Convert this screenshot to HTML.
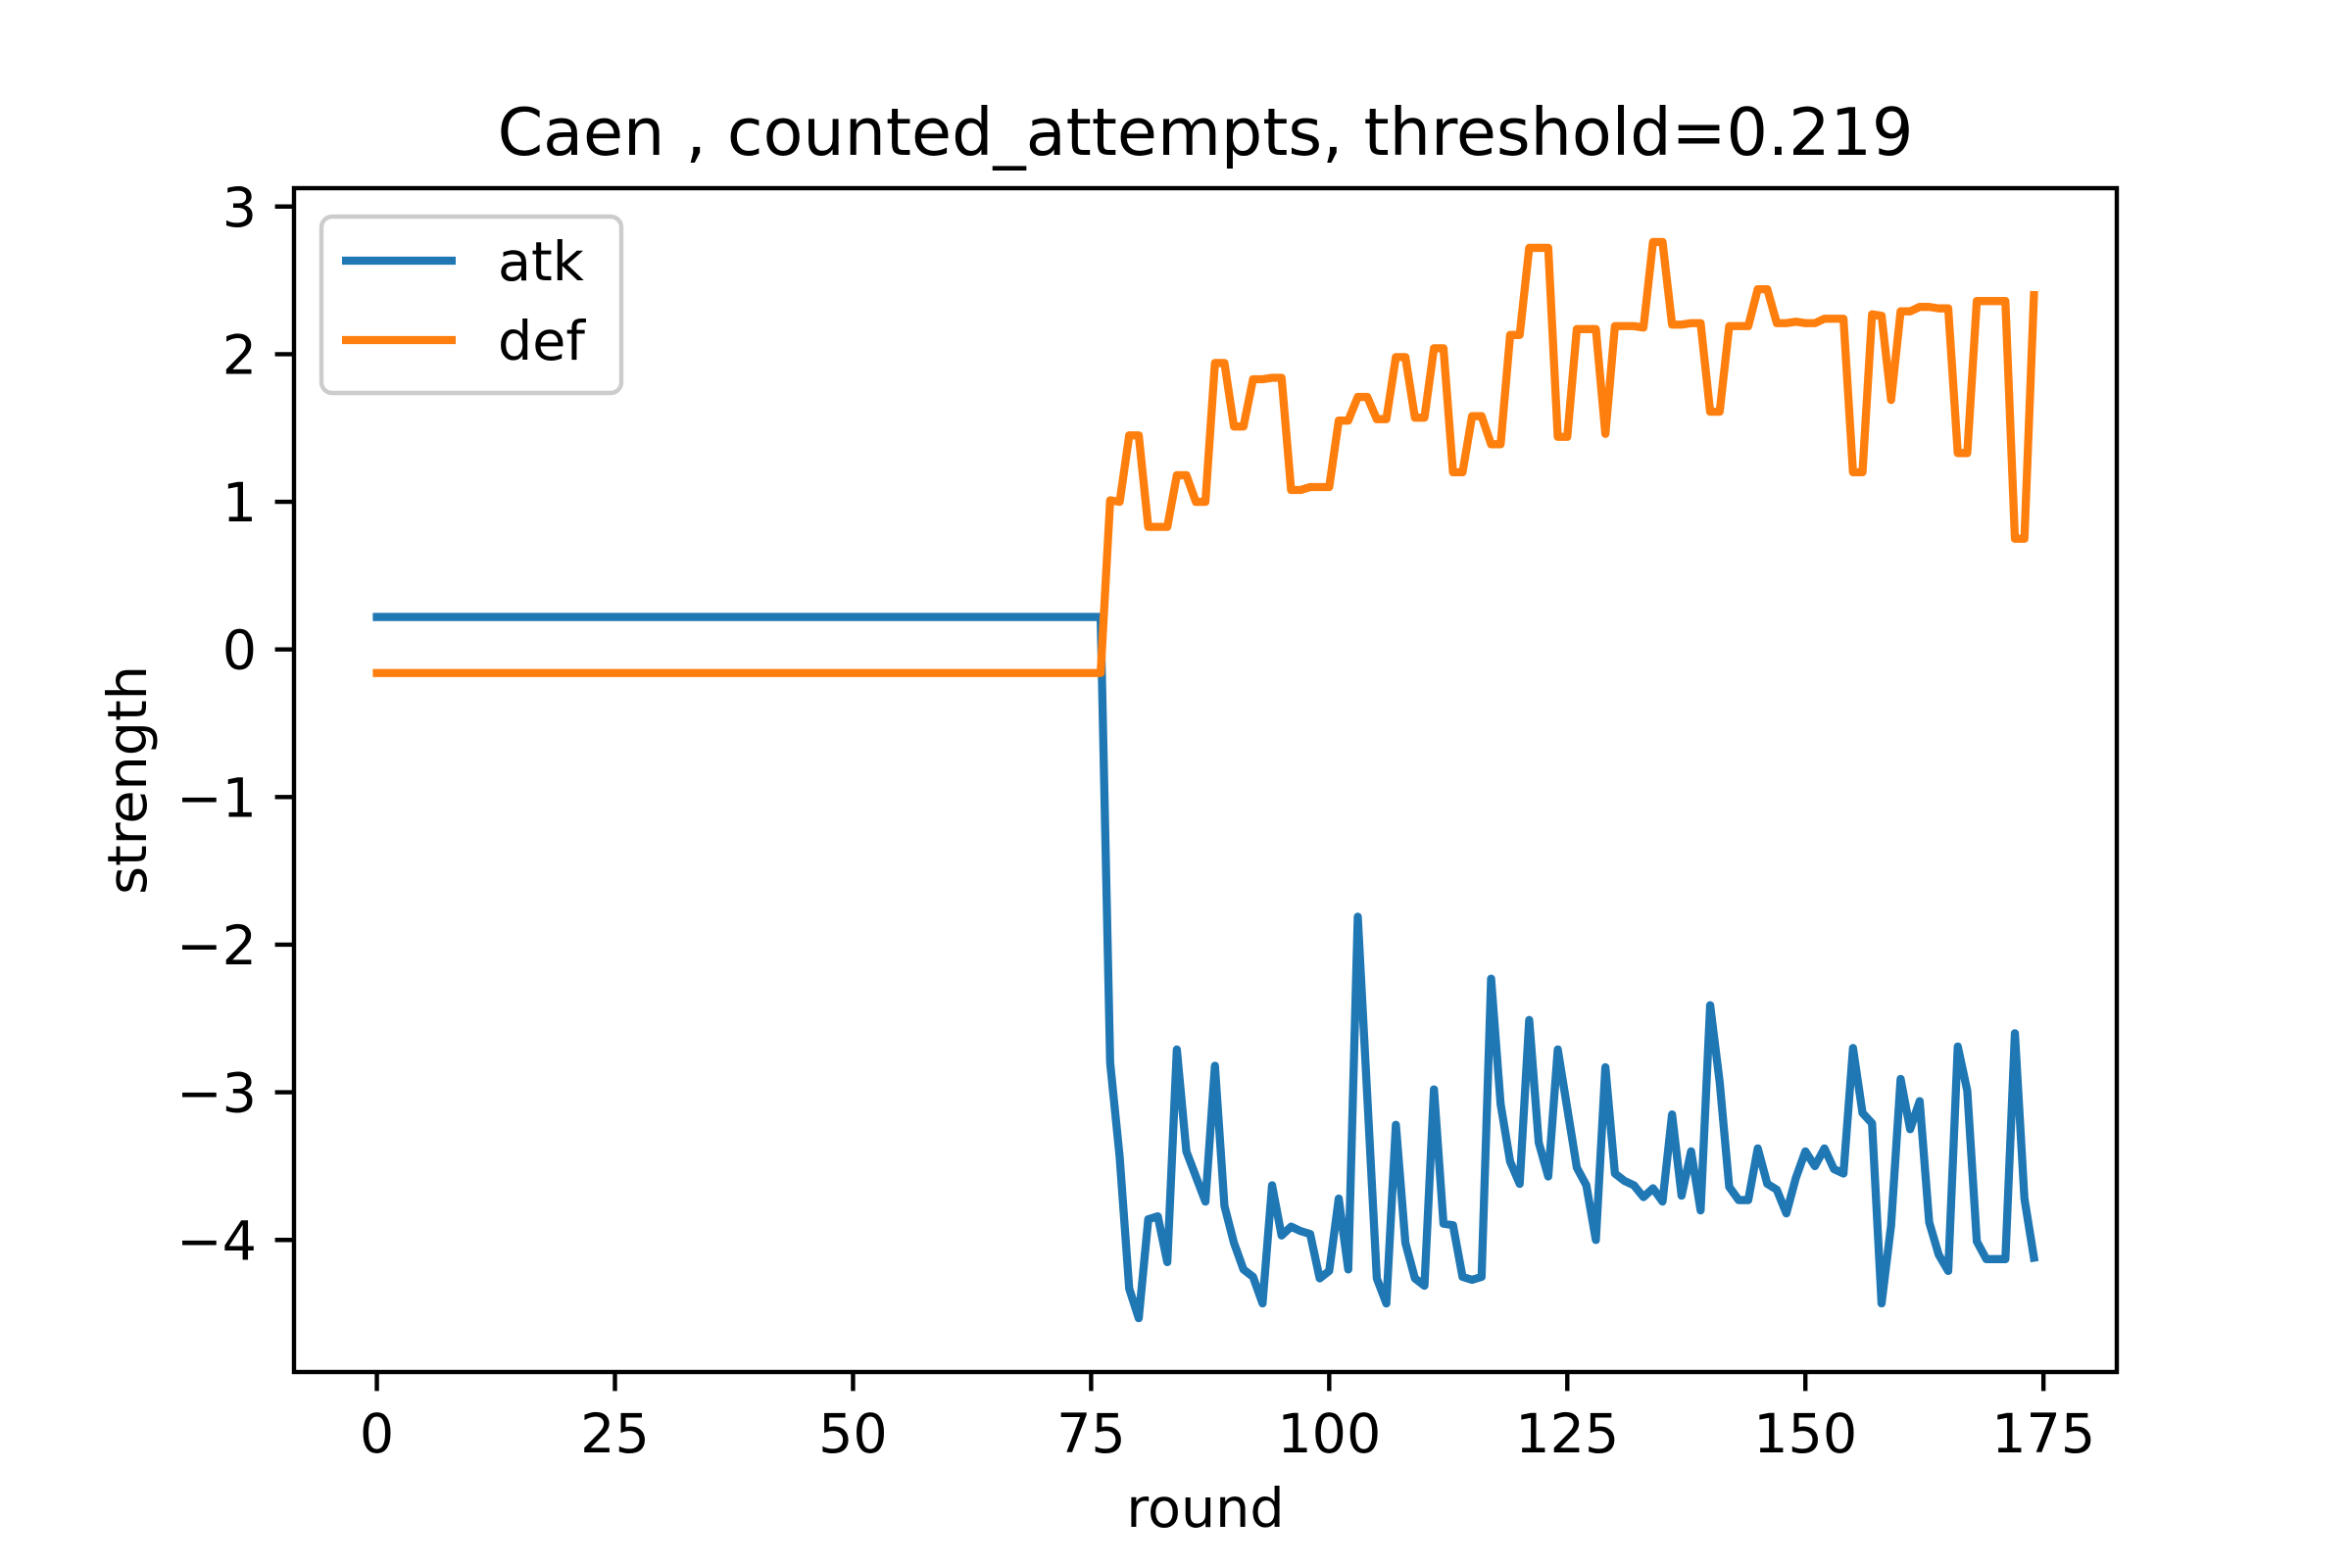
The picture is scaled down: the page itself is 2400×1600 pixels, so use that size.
<!DOCTYPE html>
<html><head><meta charset="utf-8"><style>
html,body{margin:0;padding:0;background:#fff;}
svg{display:block;font-family:"DejaVu Sans","Liberation Sans",sans-serif;}
</style></head>
<body>
<svg id="chart" width="2400" height="1600" viewBox="0 0 2400 1600" xmlns="http://www.w3.org/2000/svg">
<rect x="0" y="0" width="2400" height="1600" fill="#fff"/>
<g id="plot"></g>
</svg>
<script>
const xTicks = [0, 25, 50, 75, 100, 125, 150, 175];
const yTicks = [-4, -3, -2, -1, 0, 1, 2, 3];
const seriesNames = ["atk", "def"];
const atkEarly = 0.22;
const defEarly = -0.16;
const atkLate = [-2.8,-3.44,-4.33,-4.53,-3.86,-3.84,-4.15,-2.71,-3.4,-3.57,-3.74,-2.82,-3.77,-4.02,-4.2,-4.25,-4.43,-3.63,-3.97,-3.91,-3.94,-3.96,-4.26,-4.21,-3.72,-4.2,-1.81,-3.03,-4.26,-4.43,-3.22,-4.02,-4.26,-4.31,-2.98,-3.89,-3.9,-4.25,-4.27,-4.25,-2.23,-3.08,-3.47,-3.62,-2.51,-3.34,-3.57,-2.71,-3.11,-3.51,-3.63,-4.0,-2.83,-3.55,-3.6,-3.63,-3.71,-3.65,-3.74,-3.15,-3.7,-3.4,-3.8,-2.41,-2.93,-3.64,-3.73,-3.73,-3.38,-3.62,-3.66,-3.82,-3.58,-3.4,-3.5,-3.38,-3.52,-3.55,-2.7,-3.14,-3.21,-4.43,-3.9,-2.91,-3.25,-3.06,-3.88,-4.1,-4.21,-2.69,-2.99,-4.01,-4.13,-4.13,-4.13,-2.6,-3.72,-4.12];
const defLate = [1.01,1.0,1.45,1.45,0.83,0.83,0.83,1.18,1.18,1.0,1.0,1.94,1.94,1.51,1.51,1.83,1.83,1.84,1.84,1.08,1.08,1.1,1.1,1.1,1.55,1.55,1.71,1.71,1.56,1.56,1.98,1.98,1.57,1.57,2.04,2.04,1.2,1.2,1.58,1.58,1.39,1.39,2.13,2.13,2.72,2.72,2.72,1.44,1.44,2.17,2.17,2.17,1.46,2.19,2.19,2.19,2.18,2.76,2.76,2.2,2.2,2.21,2.21,1.61,1.61,2.19,2.19,2.19,2.44,2.44,2.21,2.21,2.22,2.21,2.21,2.24,2.24,2.24,1.2,1.2,2.27,2.26,1.69,2.29,2.29,2.32,2.32,2.31,2.31,1.33,1.33,2.36,2.36,2.36,2.36,0.75,0.75,2.4];
const earlyCount = 77;

const atk = new Array(earlyCount).fill(atkEarly).concat(atkLate);
const def = new Array(earlyCount).fill(defEarly).concat(defLate);
const colors = ["#1f77b4", "#ff7f0e"];
const L = 300, R = 2160, T = 192, B = 1400;
const n = atk.length;
const xmin0 = 0, xmax0 = n - 1, xm = (xmax0 - xmin0) * 0.05;
const xmin = xmin0 - xm, xmax = xmax0 + xm;
const all = atk.concat(def);
const ymin0 = Math.min(...all), ymax0 = Math.max(...all), ym = (ymax0 - ymin0) * 0.05;
const ymin = ymin0 - ym, ymax = ymax0 + ym;
const sx = v => L + (v - xmin) / (xmax - xmin) * (R - L);
const sy = v => B - (v - ymin) / (ymax - ymin) * (B - T);
const NS = "http://www.w3.org/2000/svg";
const g = document.getElementById("plot");
function mk(tag, attrs, parent) {
  const e = document.createElementNS(NS, tag);
  for (const k in attrs) e.setAttribute(k, attrs[k]);
  (parent || g).appendChild(e);
  return e;
}
[atk, def].forEach((arr, si) => {
  const pts = arr.map((v, i) => sx(i).toFixed(2) + "," + sy(v).toFixed(2)).join(" ");
  const pl = mk("polyline", {points: pts, fill: "none", stroke: colors[si], "stroke-width": 8.3, "stroke-linejoin": "round", "stroke-linecap": "square"});
  
  
});
const fr = mk("rect", {x: L, y: T, width: R - L, height: B - T, fill: "none", stroke: "#000", "stroke-width": 4.4});


xTicks.forEach(t => {
  const x = sx(t);
  const tk = mk("line", {x1: x, y1: B, x2: x, y2: B + 19.4, stroke: "#000", "stroke-width": 4.4});
  
  
  const tx = mk("text", {x: x, y: 1482, "text-anchor": "middle", "font-size": 55.5, fill: "#000"});
  tx.textContent = String(t);
  
  
});
yTicks.forEach(t => {
  const y = sy(t);
  const tk = mk("line", {x1: L - 19.4, y1: y, x2: L, y2: y, stroke: "#000", "stroke-width": 4.4});
  
  
  const tx = mk("text", {x: 262, y: y + 20, "text-anchor": "end", "font-size": 55.5, fill: "#000"});
  tx.textContent = t < 0 ? "\u2212" + Math.abs(t) : String(t);
  
  
});
const title = mk("text", {x: (L + R) / 2, y: 158, "text-anchor": "middle", "font-size": 66.7, fill: "#000"});
title.textContent = "Caen , counted_attempts, threshold=0.219";


const xl = mk("text", {x: (L + R) / 2, y: 1558, "text-anchor": "middle", "font-size": 55.5, fill: "#000"});
xl.textContent = "round";


const yl = mk("text", {x: 0, y: 0, "text-anchor": "middle", "font-size": 55.5, fill: "#000", transform: "translate(149," + ((T + B) / 2) + ") rotate(-90)"});
yl.textContent = "strength";


const lg = mk("g", {});


const box = mk("rect", {x: 328, y: 221, width: 306, height: 180, rx: 11, fill: "#fff", "fill-opacity": 0.8, stroke: "#cccccc", "stroke-width": 4.4}, lg);


seriesNames.forEach((nm, i) => {
  const y = 266 + i * 81;
  const ln = mk("line", {x1: 349, y1: y, x2: 465, y2: y, stroke: colors[i], "stroke-width": 8.3}, lg);
  
  
  const tx = mk("text", {x: 508, y: y + 20, "font-size": 55.5, fill: "#000"}, lg);
  tx.textContent = nm;
  
  
});
</script>
</body></html>
